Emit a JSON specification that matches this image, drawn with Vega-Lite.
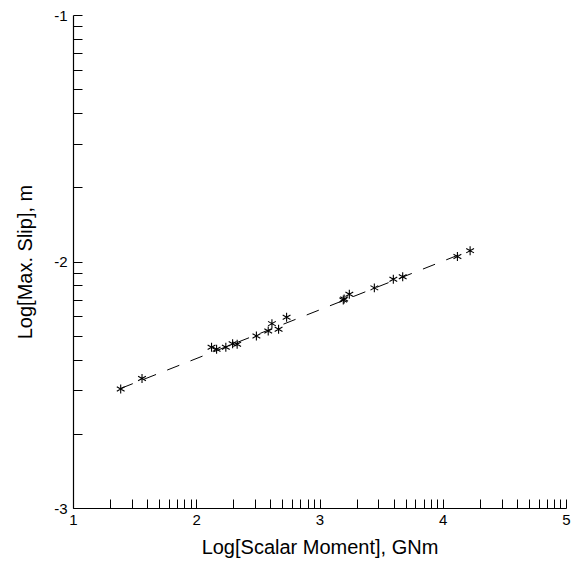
{
  "$schema": "https://vega.github.io/schema/vega-lite/v6.json",
  "width": 493,
  "height": 493,
  "autosize": "none",
  "padding": {"left": 73, "top": 15, "right": 15, "bottom": 60},
  "background": "white",
  "config": {
    "view": {"stroke": null},
    "font": "Liberation Sans",
    "axis": {
      "grid": false,
      "domainColor": "#000000",
      "tickColor": "#000000",
      "labelColor": "#000000",
      "titleColor": "#000000",
      "labelFont": "Liberation Sans",
      "titleFont": "Liberation Sans",
      "labelFontSize": 15,
      "titleFontSize": 20,
      "titleFontWeight": "normal",
      "tickSize": -9,
      "tickCount": 200,
      "domainWidth": 1.2,
      "tickWidth": 1
    }
  },
  "datasets": {
    "pts": [
      {"m": 1.387, "s": -2.517},
      {"m": 1.560, "s": -2.475},
      {"m": 2.124, "s": -2.348},
      {"m": 2.165, "s": -2.356},
      {"m": 2.240, "s": -2.348},
      {"m": 2.295, "s": -2.334},
      {"m": 2.332, "s": -2.336},
      {"m": 2.488, "s": -2.302},
      {"m": 2.584, "s": -2.282},
      {"m": 2.614, "s": -2.252},
      {"m": 2.668, "s": -2.275},
      {"m": 2.733, "s": -2.226},
      {"m": 3.193, "s": -2.156},
      {"m": 3.200, "s": -2.152},
      {"m": 3.242, "s": -2.133},
      {"m": 3.445, "s": -2.107},
      {"m": 3.599, "s": -2.072},
      {"m": 3.675, "s": -2.062},
      {"m": 4.119, "s": -1.980},
      {"m": 4.222, "s": -1.956}
    ],
    "fit": [
      {"m": 1.387, "s": -2.515},
      {"m": 4.222, "s": -1.955}
    ]
  },
  "layer": [
    {
      "data": {"name": "fit"},
      "mark": {"type": "line", "color": "#000000", "strokeWidth": 1, "strokeDash": [13, 12]},
      "encoding": {
        "x": {"field": "m", "type": "quantitative"},
        "y": {"field": "s", "type": "quantitative"}
      }
    },
    {
      "data": {"name": "pts"},
      "mark": {
        "type": "point",
        "shape": "M0,-1L0,1M-0.87,-0.5L0.87,0.5M-0.87,0.5L0.87,-0.5",
        "filled": false,
        "stroke": "#000000",
        "strokeWidth": 1.1,
        "opacity": 1,
        "size": 80
      },
      "encoding": {
        "x": {
          "field": "m",
          "type": "quantitative",
          "scale": {"domain": [1, 5], "nice": false, "zero": false},
          "axis": {
            "title": "Log[Scalar Moment], GNm",
            "values": [1, 1.30103, 1.47712, 1.60206, 1.69897, 1.77815, 1.8451, 1.90309, 1.95424, 2, 2.30103, 2.47712, 2.60206, 2.69897, 2.77815, 2.8451, 2.90309, 2.95424, 3, 3.30103, 3.47712, 3.60206, 3.69897, 3.77815, 3.8451, 3.90309, 3.95424, 4, 4.30103, 4.47712, 4.60206, 4.69897, 4.77815, 4.8451, 4.90309, 4.95424, 5],
            "tickCount": 200,
            "labelExpr": "datum.value % 1 === 0 ? '' + datum.value : ''",
            "labelPadding": 13,
            "labelFlush": false,
            "labelOverlap": false,
            "titlePadding": 10
          }
        },
        "y": {
          "field": "s",
          "type": "quantitative",
          "scale": {"domain": [-3, -1], "nice": false, "zero": false},
          "axis": {
            "title": "Log[Max. Slip], m",
            "values": [-3, -2.69897, -2.52288, -2.39794, -2.30103, -2.22185, -2.1549, -2.09691, -2.04576, -2, -1.69897, -1.52288, -1.39794, -1.30103, -1.22185, -1.1549, -1.09691, -1.04576, -1],
            "tickCount": 200,
            "labelExpr": "datum.value % 1 === 0 ? '' + datum.value : ''",
            "labelPadding": 15,
            "labelFlush": false,
            "labelOverlap": false,
            "titlePadding": 18
          }
        }
      }
    }
  ]
}
